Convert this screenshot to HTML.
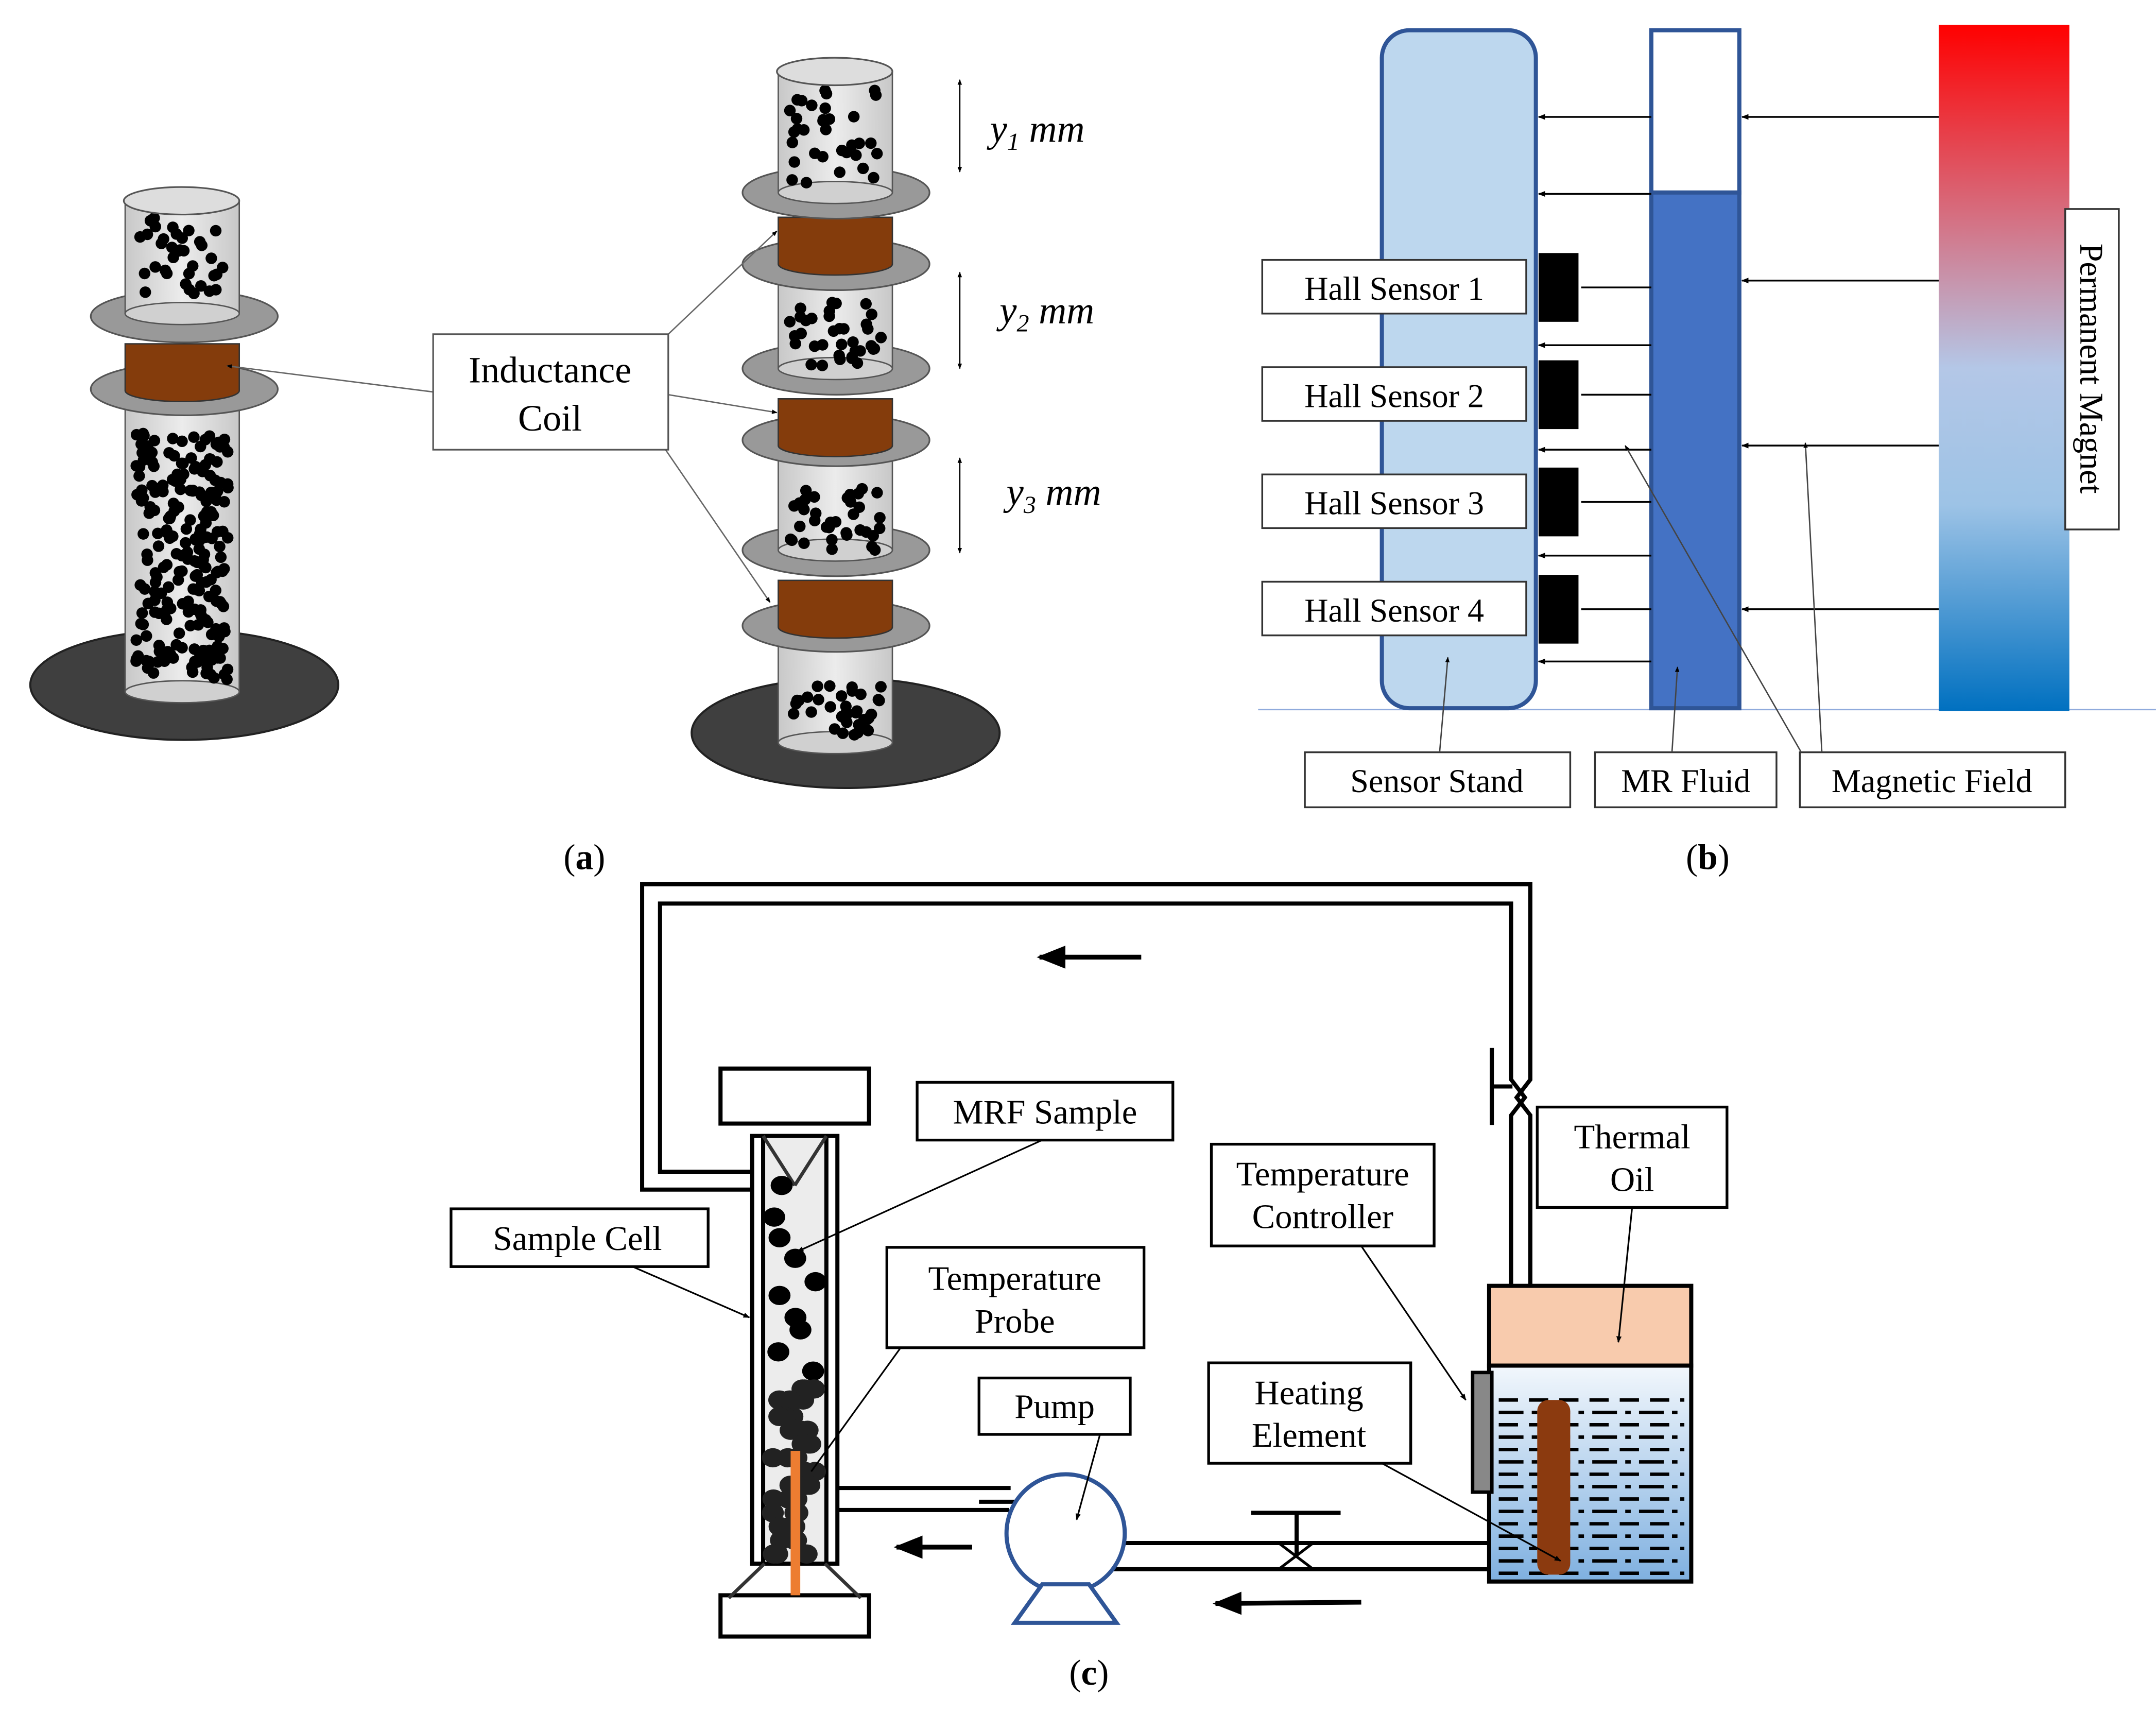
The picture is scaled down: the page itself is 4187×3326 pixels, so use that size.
<!DOCTYPE html>
<html><head><meta charset="utf-8"><style>
html,body{margin:0;padding:0;background:#fff}
svg{display:block}
text{font-family:"Liberation Serif",serif;fill:#000}
</style></head><body>
<svg id="s" width="4187" height="3326" viewBox="0 0 1568 1245.6" xmlns="http://www.w3.org/2000/svg">
<defs>
<marker id="ah" viewBox="0 0 10 10" refX="9" refY="5" markerWidth="6" markerHeight="6" orient="auto-start-reverse"><path d="M0,1 L10,5 L0,9 z" fill="#000"/></marker>
<marker id="ahs" viewBox="0 0 10 10" refX="9" refY="5" markerWidth="4" markerHeight="4" orient="auto-start-reverse"><path d="M0,1 L10,5 L0,9 z" fill="#000"/></marker>
<linearGradient id="mag" x1="0" y1="0" x2="0" y2="1"><stop offset="0" stop-color="#ff0000"/><stop offset="0.5" stop-color="#b4c7e7"/><stop offset="0.7" stop-color="#9dc3e6"/><stop offset="1" stop-color="#0070c0"/></linearGradient>
<linearGradient id="oil" x1="0" y1="0" x2="0" y2="1"><stop offset="0" stop-color="#f2f7fc"/><stop offset="1" stop-color="#7fb0e0"/></linearGradient>
<linearGradient id="cyl" x1="0" y1="0" x2="1" y2="0"><stop offset="0" stop-color="#c8c8c8"/><stop offset="0.5" stop-color="#ececec"/><stop offset="1" stop-color="#c8c8c8"/></linearGradient>
</defs>
<g id="a"></g>
<g stroke="#000" stroke-width="1.5" fill="none">
<line x1="315" y1="285" x2="165" y2="266" stroke="#666" stroke-width="1" marker-end="url(#ahs)"/>
<line x1="486" y1="243" x2="565" y2="168" stroke="#666" stroke-width="1" marker-end="url(#ahs)"/>
<line x1="486" y1="287" x2="565" y2="300" stroke="#666" stroke-width="1" marker-end="url(#ahs)"/>
<line x1="484" y1="327" x2="560" y2="438" stroke="#666" stroke-width="1" marker-end="url(#ahs)"/>
<line x1="698" y1="58" x2="698" y2="125" stroke-width="1" marker-start="url(#ahs)" marker-end="url(#ahs)"/>
<line x1="698" y1="198" x2="698" y2="268" stroke-width="1" marker-start="url(#ahs)" marker-end="url(#ahs)"/>
<line x1="698" y1="333" x2="698" y2="402" stroke-width="1" marker-start="url(#ahs)" marker-end="url(#ahs)"/>
</g>
<rect x="315" y="243" width="171" height="84" fill="#fff" stroke="#555" stroke-width="1.2"/>
<text x="400" y="278" font-size="27" text-anchor="middle">Inductance</text>
<text x="400" y="313" font-size="27" text-anchor="middle">Coil</text>
<g font-size="28" font-style="italic" font-family="Liberation Serif">
<text x="720" y="103">y<tspan font-size="18" dy="6">1</tspan><tspan dy="-6"> mm</tspan></text>
<text x="727" y="235">y<tspan font-size="18" dy="6">2</tspan><tspan dy="-6"> mm</tspan></text>
<text x="732" y="367">y<tspan font-size="18" dy="6">3</tspan><tspan dy="-6"> mm</tspan></text>
</g>
<text x="425" y="632" font-size="26" text-anchor="middle">(<tspan font-weight="bold">a</tspan>)</text>

<line x1="915" y1="516" x2="1568" y2="516" stroke="#8faadc" stroke-width="1"/>
<rect x="1005" y="22" width="112" height="493" rx="20" fill="#bdd7ee" stroke="#2f5597" stroke-width="3"/>
<rect x="1201" y="22" width="64" height="118" fill="#fff" stroke="#2f5597" stroke-width="3"/>
<rect x="1201" y="140" width="64" height="375" fill="#4472c4" stroke="#2f5597" stroke-width="3"/>
<rect x="1410" y="18" width="95" height="499" fill="url(#mag)"/>
<g stroke="#000" stroke-width="1.3">
<line x1="1410" y1="85" x2="1267" y2="85" marker-end="url(#ahs)"/>
<line x1="1410" y1="204" x2="1267" y2="204" marker-end="url(#ahs)"/>
<line x1="1410" y1="324" x2="1267" y2="324" marker-end="url(#ahs)"/>
<line x1="1410" y1="443" x2="1267" y2="443" marker-end="url(#ahs)"/>
<line x1="1201" y1="85" x2="1119" y2="85" marker-end="url(#ahs)"/>
<line x1="1201" y1="141" x2="1119" y2="141" marker-end="url(#ahs)"/>
<line x1="1201" y1="209" x2="1150" y2="209"/>
<line x1="1201" y1="251" x2="1119" y2="251" marker-end="url(#ahs)"/>
<line x1="1201" y1="287" x2="1150" y2="287"/>
<line x1="1201" y1="327" x2="1119" y2="327" marker-end="url(#ahs)"/>
<line x1="1201" y1="365" x2="1150" y2="365"/>
<line x1="1201" y1="404" x2="1119" y2="404" marker-end="url(#ahs)"/>
<line x1="1201" y1="443" x2="1150" y2="443"/>
<line x1="1201" y1="481" x2="1119" y2="481" marker-end="url(#ahs)"/>
</g>
<g fill="#000"><rect x="1119" y="184" width="29" height="50"/><rect x="1119" y="262" width="29" height="50"/><rect x="1119" y="340" width="29" height="50"/><rect x="1119" y="418" width="29" height="50"/></g>
<g fill="#fff" stroke="#333" stroke-width="1.3">
<rect x="918" y="189" width="192" height="39"/><rect x="918" y="267" width="192" height="39"/><rect x="918" y="345" width="192" height="39"/><rect x="918" y="423" width="192" height="39"/>
<rect x="949" y="547" width="193" height="40"/><rect x="1160" y="547" width="132" height="40"/><rect x="1309" y="547" width="193" height="40"/>
<rect x="1502" y="152" width="39" height="233"/>
</g>
<g font-size="24" text-anchor="middle">
<text x="1014" y="218">Hall Sensor 1</text><text x="1014" y="296">Hall Sensor 2</text><text x="1014" y="374">Hall Sensor 3</text><text x="1014" y="452">Hall Sensor 4</text>
<text x="1045" y="576">Sensor Stand</text><text x="1226" y="576">MR Fluid</text><text x="1405" y="576">Magnetic Field</text>
<text transform="translate(1513,268) rotate(90)" >Permanent Magnet</text>
</g>
<g stroke="#444" stroke-width="1">
<line x1="1047" y1="547" x2="1053" y2="478" marker-end="url(#ahs)"/>
<line x1="1216" y1="547" x2="1220" y2="485" marker-end="url(#ahs)"/>
<line x1="1310" y1="547" x2="1182" y2="324" marker-end="url(#ahs)"/>
<line x1="1325" y1="547" x2="1313" y2="322" marker-end="url(#ahs)"/>
</g>
<text x="1242" y="632" font-size="26" text-anchor="middle">(<tspan font-weight="bold">b</tspan>)</text>

<g stroke="#000" stroke-width="3" fill="none">
<polyline points="547,865 467,865 467,643 1113,643 1113,785 1103,798 1113,811 1113,935"/>
<polyline points="547,852 480,852 480,657 1099,657 1099,785 1109,798 1099,811 1099,935"/>
<line x1="1085" y1="762" x2="1085" y2="818"/>
<line x1="1085" y1="790" x2="1100" y2="790"/>
<rect x="524" y="777" width="108" height="40" fill="#fff"/>
<rect x="524" y="1160" width="108" height="30" fill="#fff"/>
<rect x="547" y="826" width="62" height="311" fill="#fff"/>
<rect x="555" y="826" width="46" height="311" fill="#ececec"/>
<polyline points="609,1082 735,1082"/>
<polyline points="609,1098 734,1098"/>
<line x1="712" y1="1092" x2="768" y2="1092"/>
<line x1="818" y1="1122" x2="1083" y2="1122"/>
<line x1="810" y1="1141" x2="1083" y2="1141"/>
<line x1="910" y1="1100" x2="975" y2="1100"/>
<line x1="943" y1="1100" x2="943" y2="1131"/>
</g>
<path d="M930,1122 L955,1141 M930,1141 L955,1122" stroke="#000" stroke-width="2"/>
<g stroke="#333" stroke-width="2.5"><line x1="555" y1="826" x2="578" y2="862"/><line x1="601" y1="826" x2="578" y2="862"/><line x1="556" y1="1137" x2="530" y2="1162"/><line x1="600" y1="1137" x2="626" y2="1162"/></g>
<g id="cd"></g>
<rect x="575" y="1055" width="7" height="105" fill="#ed7d31"/>
<circle cx="775" cy="1115" r="43" fill="#fff" stroke="#2f5597" stroke-width="3"/>
<polygon points="758,1152 792,1152 812,1180 738,1180" fill="#fff" stroke="#2f5597" stroke-width="3"/>
<rect x="1083" y="935" width="147" height="58" fill="#f8cbad" stroke="#000" stroke-width="3"/>
<rect x="1083" y="993" width="147" height="157" fill="url(#oil)" stroke="#000" stroke-width="3"/>
<g id="dash" stroke="#000" stroke-width="2.5"></g>
<rect x="1118" y="1018" width="24" height="127" rx="8" fill="#8b3a0f"/>
<rect x="1071" y="998" width="14" height="87" fill="#888" stroke="#000" stroke-width="2.5"/>
<g stroke="#000" stroke-width="3.5">
<line x1="830" y1="696" x2="756" y2="696" marker-end="url(#ah)"/>
<line x1="707" y1="1125" x2="652" y2="1125" marker-end="url(#ah)"/>
<line x1="990" y1="1165" x2="884" y2="1166" marker-end="url(#ah)"/>
</g>
<g fill="#fff" stroke="#000" stroke-width="2">
<rect x="667" y="787" width="186" height="42"/><rect x="328" y="879" width="187" height="42"/>
<rect x="645" y="907" width="187" height="73"/><rect x="712" y="1002" width="110" height="41"/>
<rect x="881" y="832" width="162" height="74"/><rect x="879" y="991" width="147" height="73"/>
<rect x="1118" y="805" width="138" height="73"/>
</g>
<g font-size="25" text-anchor="middle">
<text x="760" y="817">MRF Sample</text><text x="420" y="909">Sample Cell</text>
<text x="738" y="938">Temperature</text><text x="738" y="969">Probe</text>
<text x="767" y="1031">Pump</text>
<text x="962" y="862">Temperature</text><text x="962" y="893">Controller</text>
<text x="952" y="1021">Heating</text><text x="952" y="1052">Element</text>
<text x="1187" y="835">Thermal</text><text x="1187" y="866">Oil</text>
</g>
<g stroke="#000" stroke-width="1.2">
<line x1="758" y1="829" x2="580" y2="910" marker-end="url(#ahs)"/>
<line x1="460" y1="921" x2="545" y2="958" marker-end="url(#ahs)"/>
<line x1="655" y1="980" x2="590" y2="1070"/>
<line x1="800" y1="1043" x2="783" y2="1105" marker-end="url(#ahs)"/>
<line x1="990" y1="906" x2="1066" y2="1018" marker-end="url(#ahs)"/>
<line x1="1005" y1="1064" x2="1135" y2="1135" marker-end="url(#ahs)"/>
<line x1="1187" y1="878" x2="1177" y2="976" marker-end="url(#ahs)"/>
</g>
<text x="792" y="1225" font-size="26" text-anchor="middle">(<tspan font-weight="bold">c</tspan>)</text>
</svg>
<script>
(function(){
var NS="http://www.w3.org/2000/svg";
var seed=7;function r(){seed=(seed*16807)%2147483647;return seed/2147483647;}
function el(p,t,a){var e=document.createElementNS(NS,t);for(var k in a)e.setAttribute(k,a[k]);p.appendChild(e);return e;}
var g=document.getElementById('a');
function cyl(x1,x2,y1,y2){var cx=(x1+x2)/2,rx=(x2-x1)/2;
 el(g,'rect',{x:x1,y:y1,width:x2-x1,height:y2-y1,fill:'url(#cyl)',stroke:'#555','stroke-width':1});
 el(g,'ellipse',{cx:cx,cy:y2,rx:rx,ry:8,fill:'#d0d0d0',stroke:'#555','stroke-width':1});}
function dots(x1,x2,y1,y2,n){for(var i=0;i<n;i++)el(g,'circle',{cx:x1+6+r()*(x2-x1-12),cy:y1+5+r()*(y2-y1-10),r:4.2,fill:'#000'});}
function disc(cx,cy){el(g,'ellipse',{cx:cx,cy:cy,rx:68,ry:19,fill:'#999',stroke:'#555','stroke-width':1.2});}
function coil(x1,x2,y1,y2){var rx=(x2-x1)/2;el(g,'path',{d:'M'+x1+','+y1+' L'+x2+','+y1+' L'+x2+','+(y2-6)+' A'+rx+',8 0 0 1 '+x1+','+(y2-6)+' Z',fill:'#843c0c',stroke:'#333','stroke-width':1});}
function top(cx,cy){el(g,'ellipse',{cx:cx,cy:cy,rx:42,ry:10,fill:'#ddd',stroke:'#555','stroke-width':1.2});}
el(g,'ellipse',{cx:134,cy:498,rx:112,ry:40,fill:'#3f3f3f',stroke:'#222','stroke-width':1.5});
cyl(91,174,290,503);dots(93,172,310,500,230);
disc(134,283);coil(91,174,250,290);disc(134,230);
cyl(91,174,146,228);dots(93,172,152,228,36);top(132,146);
el(g,'ellipse',{cx:615,cy:533,rx:112,ry:40,fill:'#3f3f3f',stroke:'#222','stroke-width':1.5});
cyl(566,649,455,540);dots(568,647,493,540,36);
disc(608,455);coil(566,649,422,462);disc(608,400);
cyl(566,649,330,400);dots(568,647,350,405,36);
disc(608,320);coil(566,649,290,330);disc(608,268);
cyl(566,649,200,268);dots(568,647,215,272,36);
disc(608,192);coil(566,649,158,198);disc(608,140);
cyl(566,649,52,140);dots(568,647,60,140,34);top(607,52);
var cd=document.getElementById('cd');
var ys=[862,885,900,915,932,942,958,967,983,997,1010,1018,1030,1040,1050,1060,1070,1080,1090,1100,1110,1120,1130];
for(var i=0;i<ys.length;i++){var n=ys[i]>1000?3:1;for(var j=0;j<n;j++)el(cd,'ellipse',{cx:562+r()*32,cy:ys[i],rx:8,ry:7,fill:ys[i]>1000?'#222':'#000'});}
var d=document.getElementById('dash');
for(var y=1018;y<1145;y+=9){el(d,'line',{x1:1090,y1:y,x2:1225,y2:y,'stroke-dasharray':(y%2?'18,6,4,6':'14,8')});}
})();
</script>
</body></html>
